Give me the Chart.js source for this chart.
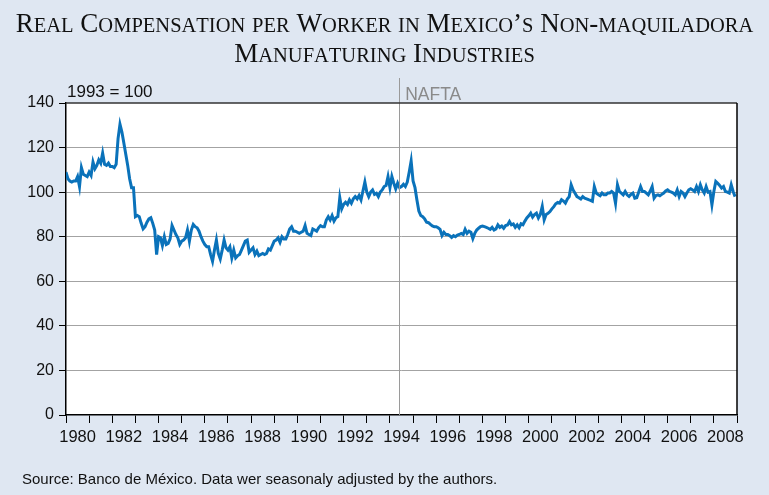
<!DOCTYPE html>
<html>
<head>
<meta charset="utf-8">
<script src="https://cdn.jsdelivr.net/npm/chart.js@4/dist/chart.umd.min.js"></script>
<style>
  html, body { margin: 0; padding: 0; background: #dfe7f2; }
  canvas { display: block; }
</style>
</head>
<body>
<canvas id="chart" width="769" height="495"></canvas>
<script>
// Chart text
const titleLines = ["Real Compensation per Worker in Mexico’s Non-maquiladora", "Manufaturing Industries"];
const baseNote = "1993 = 100";
const naftaLabel = "NAFTA";
const naftaDate = 1994.4;
const sourceNote = "Source: Banco de México. Data wer seasonaly adjusted by the authors.";

// Axes
const years = [1980, 1981, 1982, 1983, 1984, 1985, 1986, 1987, 1988, 1989,
               1990, 1991, 1992, 1993, 1994, 1995, 1996, 1997, 1998, 1999,
               2000, 2001, 2002, 2003, 2004, 2005, 2006, 2007, 2008];
const yTicks = [0, 20, 40, 60, 80, 100, 120, 140];

// Monthly index values (1993 = 100)
const comp1980s = [
  109, 106, 105, 104.5, 105, 105, 107, 102.5, 111, 108, 107.5, 107,
  109, 107.5, 113.5, 110.5, 112, 114.5, 113, 117.5, 112.5, 112, 113, 111.5,
  111.5, 111, 112.5, 124, 130.5, 127, 122, 117, 112, 106, 102, 102,
  89, 89.5, 89, 86, 83.5, 84.5, 86.5, 88, 88.5, 86, 83, 72,
  80, 79.5, 76, 80, 76.5, 77, 79, 85, 83, 81, 79.5, 76.5,
  78, 78.5, 79.5, 83, 78, 83, 85.5, 84.5, 84, 82.5, 80, 78,
  76.5, 75.5, 75.5, 72, 69, 74, 78.5, 72.5, 70, 74, 78.5, 75,
  74, 75.5, 70.5, 74, 70.5, 71.5, 72, 74, 76, 78, 78.5, 73,
  74, 75, 72, 73.5, 71.5, 72, 72.5, 72, 72.5, 74.5, 74, 76,
  78, 78.5, 79.5, 77.5, 80, 79, 79, 81, 83.5, 84.5, 82.5, 82.5
];
const comp1990s = [
  82, 81.5, 82, 82.5, 85, 81.5, 81, 80.5, 83.5, 83, 82.5, 84,
  85, 84.5, 84.5, 87.5, 89, 87.5, 89.5, 87, 88.5, 89, 97.5, 92.5,
  94.5, 95.5, 94.5, 96.5, 95, 97, 98, 97, 98.5, 96.5, 100.5, 104.5,
  100, 98, 100, 101, 99, 99.5, 98, 100, 101, 102.5, 103, 107,
  102, 107, 104, 101.5, 104, 102, 102.5, 103.5, 102.5, 104.5, 109, 114,
  105, 102, 96.5, 91.5, 89.5, 89, 88, 86.5, 86.3, 85.5, 84.8, 84.5,
  84.5, 84, 83.3, 80.5, 82, 81, 81, 80.5, 79.7, 80.5, 80, 80.7,
  81, 81.5, 81, 83.3, 81.5, 82.5, 82, 79.2, 81.5, 83, 83.8, 84.5,
  84.8, 84.5, 84.2, 83.8, 83.3, 84.2, 83, 83.5, 85.3, 84.2, 84.8, 83.8,
  85, 85.3, 86.8, 85.3, 85.7, 84.2, 85.3, 84, 85.8, 85.4, 87, 88.4
];
const comp2000s = [
  89.4, 90.6, 88.8, 89.9, 90.6, 88.4, 90, 93.6, 87.6, 90, 90.5, 91.3,
  92.5, 93.5, 94.8, 95.4, 95.1, 96.6, 96, 95.1, 96.9, 98, 103.3, 101,
  99.5, 98, 97.5, 96.9, 98, 97.3, 97, 96.6, 96.3, 95.9, 102.5, 99.6,
  98.9, 98.4, 99.6, 98.8, 98.8, 99.6, 99.6, 100.3, 99.6, 95, 103.3, 100.3,
  99.6, 98.8, 100.3, 98.8, 98.1, 99, 99.6, 97.3, 97.5, 100, 102.5, 100.3,
  100.3, 99.6, 98.8, 100.5, 102.5, 97.3, 98.5, 98.8, 98.4, 99, 99.6, 100.5,
  101, 100.3, 100, 99.6, 98.8, 101, 98, 100.3, 99.6, 98, 99.6, 101,
  101.5, 101, 100.3, 102.5, 100.3, 103.3, 101, 99.6, 102.5, 100, 100.3, 94.3,
  100.3, 104.8, 104, 103, 101.8, 102.5, 100.3, 100, 99.6, 103.3, 100.3, 98
];

const monthly = comp1980s.concat(comp1990s, comp2000s);
const points = monthly.map((v, i) => ({ x: years[0] + i / 12, y: v }));

// draw text with lowercase letters as small capitals
function smallCapsText(ctx, text, cx, y, big, small, family) {
  const parts = [];
  for (const ch of text) {
    const low = ch !== ch.toUpperCase();
    parts.push({ ch: ch.toUpperCase(), size: low ? small : big });
  }
  let total = 0;
  parts.forEach(p => {
    ctx.font = p.size + "px " + family;
    p.w = ctx.measureText(p.ch).width;
    total += p.w;
  });
  let x = cx - total / 2;
  parts.forEach(p => {
    ctx.font = p.size + "px " + family;
    ctx.fillText(p.ch, x, y);
    x += p.w;
  });
}

const sans = "'Liberation Sans', Arial, sans-serif";

const decorations = {
  id: "decorations",
  beforeDraw(chart) {
    const { ctx, chartArea: a } = chart;
    ctx.save();
    ctx.fillStyle = "#dfe7f2";
    ctx.fillRect(0, 0, chart.width, chart.height);
    ctx.fillStyle = "#ffffff";
    ctx.fillRect(a.left, a.top, a.right - a.left, a.bottom - a.top);
    ctx.restore();
  },
  afterDatasetsDraw(chart) {
    const { ctx, chartArea: a, scales } = chart;
    ctx.save();
    // NAFTA marker
    const nx = Math.round(scales.x.getPixelForValue(naftaDate)) + 0.5;
    ctx.strokeStyle = "#9a9a9a";
    ctx.lineWidth = 1;
    ctx.beginPath();
    ctx.moveTo(nx, 78);
    ctx.lineTo(nx, a.bottom);
    ctx.stroke();
    // frame top and right
    ctx.strokeStyle = "#333333";
    ctx.lineWidth = 1.5;
    ctx.beginPath();
    ctx.moveTo(a.left, a.top);
    ctx.lineTo(a.right, a.top);
    ctx.stroke();
    ctx.strokeStyle = "#000000";
    ctx.beginPath();
    ctx.moveTo(a.right, a.top);
    ctx.lineTo(a.right, a.bottom);
    ctx.stroke();
    ctx.restore();
  },
  afterDraw(chart) {
    const { ctx, chartArea: a, scales } = chart;
    ctx.save();
    ctx.textBaseline = "alphabetic";
    ctx.fillStyle = "#111111";
    smallCapsText(ctx, titleLines[0], chart.width / 2, 32, 27, 20.5, "'Liberation Serif', serif");
    smallCapsText(ctx, titleLines[1], chart.width / 2, 62, 27, 20.5, "'Liberation Serif', serif");

    ctx.font = "17px " + sans;
    ctx.textAlign = "left";
    ctx.fillStyle = "#111111";
    ctx.fillText(baseNote, a.left + 1, a.top - 6);
    ctx.font = "17.5px " + sans;
    ctx.fillStyle = "#8a8a8a";
    ctx.fillText(naftaLabel, scales.x.getPixelForValue(naftaDate) + 6, a.top - 3);

    ctx.font = "15px " + sans;
    ctx.fillStyle = "#111111";
    ctx.fillText(sourceNote, 22, 484);
    ctx.restore();
  }
};

const yearWidth = 671 / 29;

new Chart(document.getElementById("chart"), {
  type: "line",
  data: {
    datasets: [{
      data: points,
      borderColor: "#0a72ba",
      borderWidth: 3,
      pointRadius: 0,
      tension: 0,
      fill: false
    }]
  },
  options: {
    responsive: false,
    animation: false,
    devicePixelRatio: 1,
    parsing: false,
    layout: { padding: { top: 103, right: 32, left: 0, bottom: 0 } },
    plugins: {
      legend: { display: false },
      title: { display: false },
      tooltip: { enabled: false }
    },
    scales: {
      x: {
        type: "linear",
        min: years[0],
        max: years[years.length - 1] + 1,
        afterBuildTicks(scale) {
          scale.ticks = years.concat(years[years.length - 1] + 1).map(v => ({ value: v }));
        },
        afterFit(scale) { scale.height = 80; },
        ticks: {
          autoSkip: false,
          maxRotation: 0,
          minRotation: 0,
          labelOffset: yearWidth / 2,
          padding: 5,
          color: "#111111",
          font: { family: sans, size: 16.5 },
          callback: v => (v % 2 === 0 && v <= years[years.length - 1]) ? String(v) : ""
        },
        grid: {
          drawOnChartArea: false,
          drawTicks: true,
          tickLength: 8,
          tickColor: "#000000"
        },
        border: { color: "#000000", width: 1.5 }
      },
      y: {
        min: 0,
        max: 140,
        afterBuildTicks(scale) {
          scale.ticks = yTicks.map(v => ({ value: v }));
        },
        afterFit(scale) { scale.width = 66; },
        ticks: {
          padding: 5,
          color: "#111111",
          font: { family: sans, size: 16 }
        },
        grid: {
          color: ctx => (ctx.tick && (ctx.tick.value === 0 || ctx.tick.value === 140)) ? "rgba(0,0,0,0)" : "#a3a3a3",
          lineWidth: 1,
          tickLength: 7,
          tickColor: "#000000"
        },
        border: { color: "#000000", width: 1.5 }
      }
    }
  },
  plugins: [decorations]
});
</script>
</body>
</html>
